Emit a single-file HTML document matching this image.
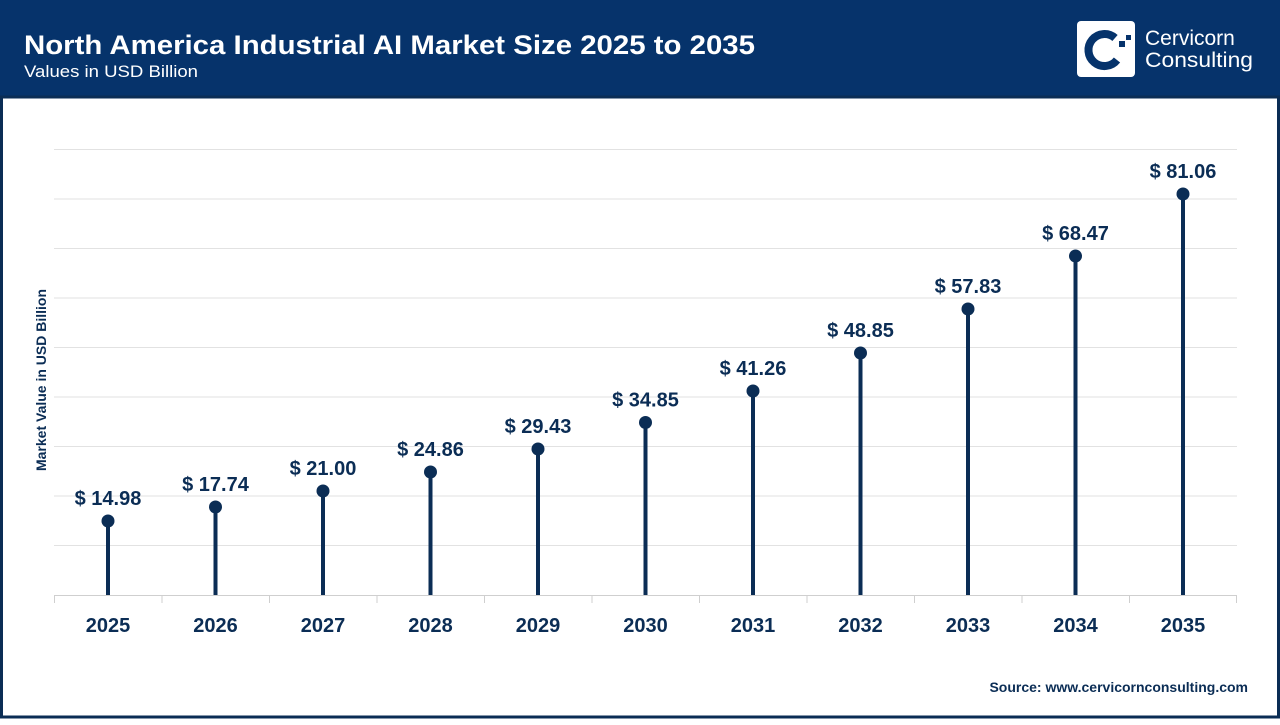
<!DOCTYPE html>
<html><head><meta charset="utf-8"><style>
body{margin:0;width:1280px;height:720px;overflow:hidden;background:#fff;font-family:"Liberation Sans",sans-serif;}
</style></head><body>
<svg width="1280" height="720" xmlns="http://www.w3.org/2000/svg" font-family="Liberation Sans, sans-serif">
<rect x="0" y="0" width="1280" height="98" fill="#06336b"/>
<rect x="1.5" y="97" width="1277" height="620" fill="#fff" stroke="#0b2d55" stroke-width="3"/>
<text x="24" y="54" fill="#fff" font-size="27" font-weight="bold" textLength="731" lengthAdjust="spacingAndGlyphs">North America Industrial AI Market Size 2025 to 2035</text>
<text x="24" y="77" fill="#fff" font-size="17" textLength="174" lengthAdjust="spacingAndGlyphs">Values in USD Billion</text>
<rect x="1077" y="21" width="58" height="56" rx="4" fill="#fff"/>
<path d="M1115 38 A16 16 0 1 0 1117 60" fill="none" stroke="#06336b" stroke-width="8"/>
<rect x="1119" y="41" width="6" height="6" fill="#06336b"/><rect x="1126" y="35" width="5" height="5" fill="#06336b"/>
<text x="1145" y="45" fill="#fff" font-size="21">Cervicorn</text>
<text x="1145" y="67" fill="#fff" font-size="21" textLength="108" lengthAdjust="spacingAndGlyphs">Consulting</text>
<g stroke="#e2e2e2" stroke-width="1">
<line x1="54" x2="1237" y1="149.5" y2="149.5"/><line x1="54" x2="1237" y1="199" y2="199"/><line x1="54" x2="1237" y1="248.5" y2="248.5"/><line x1="54" x2="1237" y1="298" y2="298"/><line x1="54" x2="1237" y1="347.5" y2="347.5"/><line x1="54" x2="1237" y1="397" y2="397"/><line x1="54" x2="1237" y1="446.5" y2="446.5"/><line x1="54" x2="1237" y1="496" y2="496"/><line x1="54" x2="1237" y1="545.5" y2="545.5"/>
</g>
<g stroke="#cfcfcf" stroke-width="1">
<line x1="54" x2="1237" y1="595.5" y2="595.5"/>
<line x1="54.5" x2="54.5" y1="595" y2="603"/><line x1="162" x2="162" y1="595" y2="603"/><line x1="269.5" x2="269.5" y1="595" y2="603"/><line x1="377" x2="377" y1="595" y2="603"/><line x1="484.5" x2="484.5" y1="595" y2="603"/><line x1="592" x2="592" y1="595" y2="603"/><line x1="699.5" x2="699.5" y1="595" y2="603"/><line x1="807" x2="807" y1="595" y2="603"/><line x1="914.5" x2="914.5" y1="595" y2="603"/><line x1="1022" x2="1022" y1="595" y2="603"/><line x1="1129.5" x2="1129.5" y1="595" y2="603"/><line x1="1236.5" x2="1236.5" y1="595" y2="603"/>
</g>
<text transform="translate(46,380) rotate(-90)" text-anchor="middle" fill="#0b2d55" font-size="14" font-weight="bold">Market Value in USD Billion</text>
<g stroke="#0b2d55" stroke-width="4">
<line x1="108" x2="108" y1="521" y2="595"/>
<line x1="215.5" x2="215.5" y1="507" y2="595"/>
<line x1="323" x2="323" y1="491" y2="595"/>
<line x1="430.5" x2="430.5" y1="472" y2="595"/>
<line x1="538" x2="538" y1="449" y2="595"/>
<line x1="645.5" x2="645.5" y1="422.5" y2="595"/>
<line x1="753" x2="753" y1="391" y2="595"/>
<line x1="860.5" x2="860.5" y1="353" y2="595"/>
<line x1="968" x2="968" y1="309" y2="595"/>
<line x1="1075.5" x2="1075.5" y1="256" y2="595"/>
<line x1="1183" x2="1183" y1="194" y2="595"/>
</g>
<g fill="#0b2d55">
<circle cx="108" cy="521" r="6.5"/>
<circle cx="215.5" cy="507" r="6.5"/>
<circle cx="323" cy="491" r="6.5"/>
<circle cx="430.5" cy="472" r="6.5"/>
<circle cx="538" cy="449" r="6.5"/>
<circle cx="645.5" cy="422.5" r="6.5"/>
<circle cx="753" cy="391" r="6.5"/>
<circle cx="860.5" cy="353" r="6.5"/>
<circle cx="968" cy="309" r="6.5"/>
<circle cx="1075.5" cy="256" r="6.5"/>
<circle cx="1183" cy="194" r="6.5"/>
</g>
<g fill="#0b2d55" font-weight="bold" font-size="20" text-anchor="middle">
<text x="108" y="505">$ 14.98</text>
<text x="215.5" y="491">$ 17.74</text>
<text x="323" y="475">$ 21.00</text>
<text x="430.5" y="456">$ 24.86</text>
<text x="538" y="433">$ 29.43</text>
<text x="645.5" y="406.5">$ 34.85</text>
<text x="753" y="375">$ 41.26</text>
<text x="860.5" y="337">$ 48.85</text>
<text x="968" y="293">$ 57.83</text>
<text x="1075.5" y="240">$ 68.47</text>
<text x="1183" y="178">$ 81.06</text>
<text x="108" y="632">2025</text>
<text x="215.5" y="632">2026</text>
<text x="323" y="632">2027</text>
<text x="430.5" y="632">2028</text>
<text x="538" y="632">2029</text>
<text x="645.5" y="632">2030</text>
<text x="753" y="632">2031</text>
<text x="860.5" y="632">2032</text>
<text x="968" y="632">2033</text>
<text x="1075.5" y="632">2034</text>
<text x="1183" y="632">2035</text>
</g>
<text x="1248" y="692" text-anchor="end" fill="#0b2d55" font-size="14" font-weight="bold">Source: www.cervicornconsulting.com</text>
</svg>
</body></html>
